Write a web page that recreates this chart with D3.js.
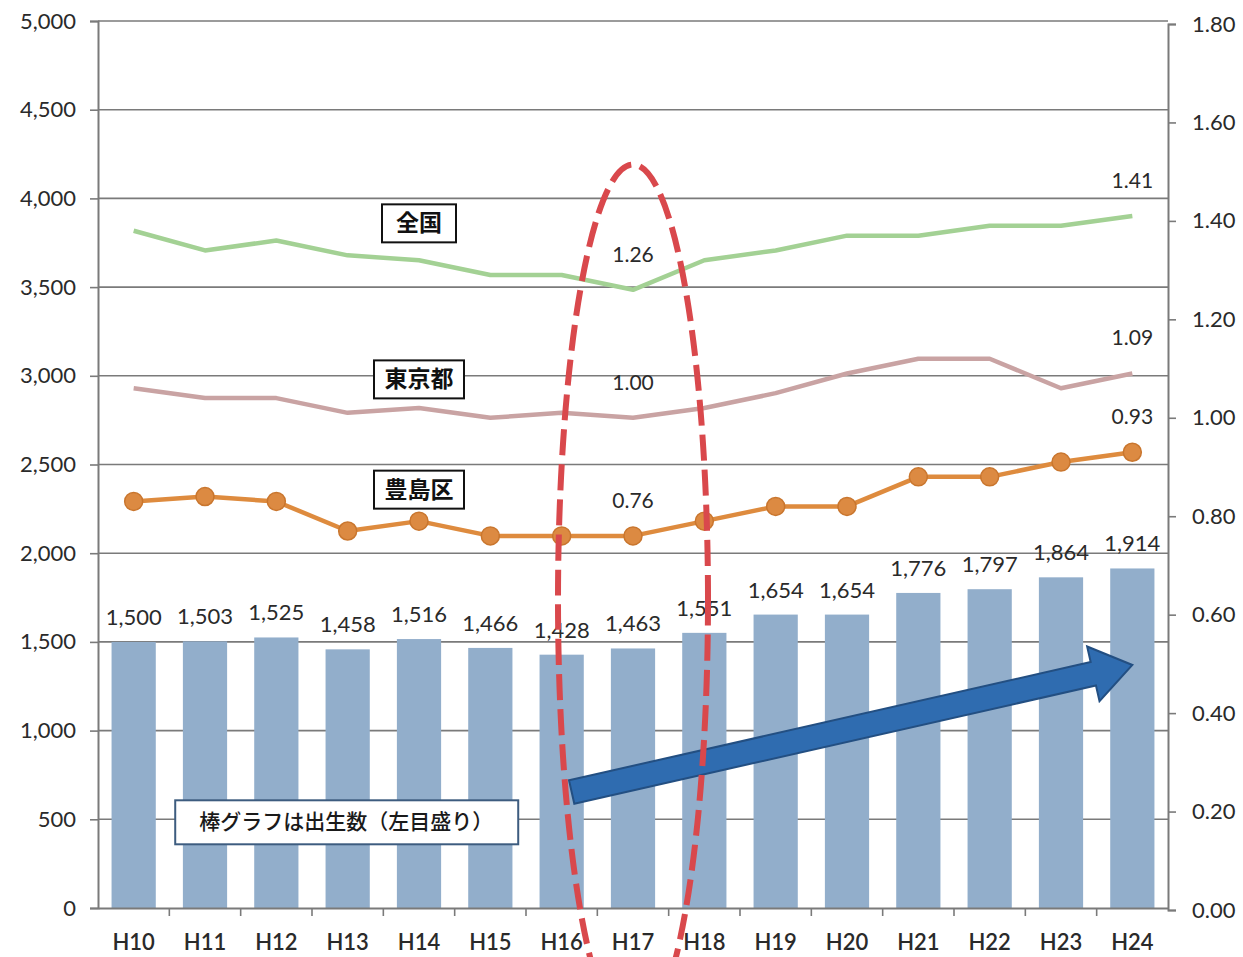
<!DOCTYPE html>
<html>
<head>
<meta charset="utf-8">
<title>出生数と合計特殊出生率</title>
<style>
  body { margin: 0; background: #fff; }
  svg { display: block; font-family: Lato, "Noto Sans", sans-serif; }
  .jp { font-family: "Noto Sans CJK JP", sans-serif; }
</style>
<script src="https://d3js.org/d3.v7.min.js"></script>
</head>
<body>
<svg></svg>
<script>
const years = ["H10","H11","H12","H13","H14","H15","H16","H17","H18","H19","H20","H21","H22","H23","H24"];
const births = [1500,1503,1525,1458,1516,1466,1428,1463,1551,1654,1654,1776,1797,1864,1914];
const zenkoku = [1.38,1.34,1.36,1.33,1.32,1.29,1.29,1.26,1.32,1.34,1.37,1.37,1.39,1.39,1.41];
const tokyo   = [1.06,1.04,1.04,1.01,1.02,1.00,1.01,1.00,1.02,1.05,1.09,1.12,1.12,1.06,1.09];
const toshima = [0.83,0.84,0.83,0.77,0.79,0.76,0.76,0.76,0.79,0.82,0.82,0.88,0.88,0.91,0.93];
const leftTicks = [0,500,1000,1500,2000,2500,3000,3500,4000,4500,5000];
const rightTicks = [0,0.2,0.4,0.6,0.8,1.0,1.2,1.4,1.6,1.8];
const labelYears = ["H17","H24"];

const width = 1243, height = 957;
const svg = d3.select('svg').attr('width', width).attr('height', height);

const x = d3.scaleBand().domain(years).range([98, 1168]).paddingInner(0.38).paddingOuter(0.19);
const xc = d => x(d) + x.bandwidth() / 2;
const yL = d3.scaleLinear().domain([0, 5000]).range([908, 21]);
const yR = d3.scaleLinear().domain([0, 1.8]).range([910, 24]);
const fmt = d3.format(',');

// gridlines
svg.append('g').selectAll('line')
  .data(leftTicks.slice(1))
  .join('line')
  .attr('x1', 98).attr('x2', 1168)
  .attr('y1', d => yL(d)).attr('y2', d => yL(d))
  .attr('stroke', '#7a7a7a').attr('stroke-width', 1.6);

// bars
svg.append('g').selectAll('rect')
  .data(births)
  .join('rect')
  .attr('x', (d, i) => x(years[i]))
  .attr('width', x.bandwidth())
  .attr('y', d => yL(d))
  .attr('height', d => yL(0) - yL(d))
  .attr('fill', '#92aecb');

// axes
const axL = svg.append('g').attr('transform', 'translate(98,0)')
  .call(d3.axisLeft(yL).tickValues(leftTicks).tickFormat(fmt).tickSize(8).tickPadding(14));
const axR = svg.append('g').attr('transform', 'translate(1168,0)')
  .call(d3.axisRight(yR).tickValues(rightTicks).tickFormat(d3.format('.2f')).tickSize(8).tickPadding(16));
const axB = svg.append('g').attr('transform', 'translate(0,908)')
  .call(d3.axisBottom(x).tickSize(0).tickPadding(26));
[axL, axR, axB].forEach(a => {
  a.select('.domain').attr('stroke', '#7a7a7a').attr('stroke-width', 2);
  a.selectAll('.tick line').attr('stroke', '#7a7a7a').attr('stroke-width', 1.6);
  a.selectAll('text').attr('fill', '#2a2a2a').style('font-size', '22px').style('font-family', 'Lato, sans-serif');
});
axB.selectAll('text').style('font-weight', 600);
// category boundary ticks
svg.append('g').selectAll('line')
  .data(years.slice(1))
  .join('line')
  .attr('x1', d => x(d) - x.step() * x.paddingInner() / 2)
  .attr('x2', d => x(d) - x.step() * x.paddingInner() / 2)
  .attr('y1', 908).attr('y2', 916)
  .attr('stroke', '#7a7a7a').attr('stroke-width', 1.6);

// bar labels
svg.append('g').selectAll('text')
  .data(births)
  .join('text')
  .attr('x', (d, i) => xc(years[i]))
  .attr('y', d => yL(d) - 17)
  .attr('text-anchor', 'middle')
  .attr('fill', '#2a2a2a').style('font-size', '22px')
  .text(d => fmt(d));

// rate lines
const line = d3.line().x((d, i) => xc(years[i])).y(d => yR(d));
const series = [
  { name: '全国', values: zenkoku, color: '#a3d194', box: 1.395 },
  { name: '東京都', values: tokyo, color: '#c9a3a3', box: 1.078 },
  { name: '豊島区', values: toshima, color: '#de8b3e', box: 0.854 }
];
series.forEach(s => {
  svg.append('path').datum(s.values)
    .attr('d', line).attr('fill', 'none')
    .attr('stroke', s.color).attr('stroke-width', 4.5).attr('stroke-linejoin', 'round');
  labelYears.forEach(yr => {
    const i = years.indexOf(yr);
    svg.append('text')
      .attr('x', xc(yr)).attr('y', yR(s.values[i]) - 28)
      .attr('text-anchor', 'middle').attr('fill', '#2a2a2a').style('font-size', '21px')
      .text(d3.format('.2f')(s.values[i]));
  });
});
svg.append('g').selectAll('circle')
  .data(toshima)
  .join('circle')
  .attr('cx', (d, i) => xc(years[i]))
  .attr('cy', d => yR(d))
  .attr('r', 9)
  .attr('fill', '#dc8a42').attr('stroke', '#c9762e').attr('stroke-width', 1.5);

// series name boxes
series.forEach(s => {
  const g = svg.append('g').attr('transform', `translate(${xc('H14')},${yR(s.box)})`);
  const w = s.name.length === 2 ? 74 : 90;
  g.append('rect').attr('x', -w / 2).attr('y', -19).attr('width', w).attr('height', 38)
    .attr('fill', '#fff').attr('stroke', '#111').attr('stroke-width', 2);
  g.append('text').attr('class', 'jp').attr('text-anchor', 'middle').attr('y', 8)
    .attr('fill', '#111').style('font-size', '23px').style('font-weight', 700).text(s.name);
});

// note box
const note = svg.append('g').attr('transform', `translate(${x('H12') + 74},${yL(500)})`);
note.append('rect').attr('x', -153).attr('y', -19).attr('width', 343).attr('height', 44)
  .attr('fill', '#fff').attr('stroke', '#3d5c7f').attr('stroke-width', 2);
note.append('text').attr('class', 'jp').attr('x', 18).attr('y', 10).attr('text-anchor', 'middle')
  .attr('fill', '#1a1a1a').style('font-size', '21px').style('font-weight', 500)
  .text('棒グラフは出生数（左目盛り）');

// trend arrow
const a0 = [xc('H16') + 10, yL(654)], a1 = [xc('H24'), yL(1370)];
const dx = a1[0] - a0[0], dy = a1[1] - a0[1], len = Math.hypot(dx, dy);
const ux = dx / len, uy = dy / len, px = -uy, py = ux;
const sw = 12, hw = 28, hl = 40;
const pt = (t, o) => [a0[0] + ux * t + px * o, a0[1] + uy * t + py * o];
const arrowPts = [pt(0, sw), pt(len - hl, sw), pt(len - hl, hw), pt(len, 0), pt(len - hl, -hw), pt(len - hl, -sw), pt(0, -sw)];
svg.append('polygon').attr('points', arrowPts.map(p => p.join(',')).join(' '))
  .attr('fill', '#2f6cb0').attr('stroke', '#234f82').attr('stroke-width', 2);

// dashed ellipse around H17
svg.append('ellipse')
  .attr('cx', xc('H17')).attr('cy', yL(1736))
  .attr('rx', 75).attr('ry', yL(0) - yL(2455))
  .attr('fill', 'none').attr('stroke', '#d9484c').attr('stroke-width', 6)
  .attr('stroke-dasharray', '26 9');
</script>
</body>
</html>
